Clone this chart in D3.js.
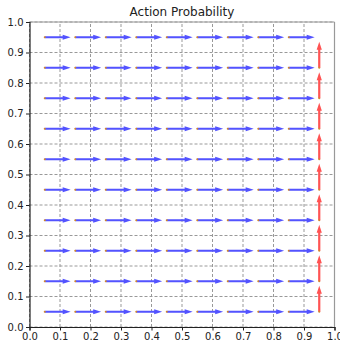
<!DOCTYPE html>
<html>
<head>
<meta charset="utf-8">
<script src="https://cdn.jsdelivr.net/npm/d3@7"></script>
<style>
  body { margin: 0; background: #fff; }
  text { font-family: "DejaVu Sans", sans-serif; }
</style>
</head>
<body>
<div id="chart"></div>
<script>
// cell centres along each axis
const xCenters = [0.05, 0.15, 0.25, 0.35, 0.45, 0.55, 0.65, 0.75, 0.85, 0.95];
const yCenters = [0.05, 0.15, 0.25, 0.35, 0.45, 0.55, 0.65, 0.75, 0.85, 0.95];
// best action per row (bottom row first): R = right, U = up, "" = none
const policyRows = [
  ["R","R","R","R","R","R","R","R","R","U"],
  ["R","R","R","R","R","R","R","R","R","U"],
  ["R","R","R","R","R","R","R","R","R","U"],
  ["R","R","R","R","R","R","R","R","R","U"],
  ["R","R","R","R","R","R","R","R","R","U"],
  ["R","R","R","R","R","R","R","R","R","U"],
  ["R","R","R","R","R","R","R","R","R","U"],
  ["R","R","R","R","R","R","R","R","R","U"],
  ["R","R","R","R","R","R","R","R","R","U"],
  ["R","R","R","R","R","R","R","R","R",""]
];
const arrowLength = 0.085;
const ticks = [0, 0.1, 0.2, 0.3, 0.4, 0.5, 0.6, 0.7, 0.8, 0.9, 1.0];
const titleText = "Action Probability";

const width = 340, height = 343;
const margin = { left: 29.5, top: 22, right: 5.5, bottom: 16 };

const svg = d3.select("#chart").append("svg")
  .attr("width", width)
  .attr("height", height);

const xScale = d3.scaleLinear().domain([0, 1]).range([margin.left, width - margin.right]);
const yScale = d3.scaleLinear().domain([0, 1]).range([height - margin.bottom, margin.top]);

// grid
const grid = svg.append("g").attr("class", "grid");
grid.selectAll(".gx").data(ticks).enter().append("line")
  .attr("x1", d => xScale(d)).attr("x2", d => xScale(d))
  .attr("y1", yScale(0)).attr("y2", yScale(1))
  .attr("stroke", "#999").attr("stroke-width", 1).attr("stroke-dasharray", "3,2");
grid.selectAll(".gy").data(ticks).enter().append("line")
  .attr("y1", d => yScale(d)).attr("y2", d => yScale(d))
  .attr("x1", xScale(0)).attr("x2", xScale(1))
  .attr("stroke", "#999").attr("stroke-width", 1).attr("stroke-dasharray", "3,2");

// arrows
const arrows = [];
policyRows.forEach((row, i) => {
  row.forEach((a, j) => {
    if (a) arrows.push({ x: xCenters[j], y: yCenters[i], a: a });
  });
});

const defs = svg.append("defs");
const soft = defs.append("filter").attr("id", "soft").attr("x", "-20%").attr("y", "-100%")
  .attr("width", "140%").attr("height", "300%");
soft.append("feGaussianBlur").attr("stdDeviation", 0.6);

function arrowPath(d) {
  const x0 = xScale(d.x), y0 = yScale(d.y);
  const dx = d.a === "R" ? xScale(d.x + arrowLength) - x0 : 0;
  const dy = d.a === "U" ? yScale(d.y + arrowLength) - y0 : 0;
  const len = Math.hypot(dx, dy);
  const ux = dx / len, uy = dy / len;     // direction
  const px = -uy, py = ux;                // perpendicular
  const shaft = 1.1, head = 2.6, headLen = 8;
  const bx = x0 + ux * (len - headLen), by = y0 + uy * (len - headLen);
  const pts = [
    [x0 + px * shaft, y0 + py * shaft],
    [bx + px * shaft, by + py * shaft],
    [bx + px * head, by + py * head],
    [x0 + dx, y0 + dy],
    [bx - px * head, by - py * head],
    [bx - px * shaft, by - py * shaft],
    [x0 - px * shaft, y0 - py * shaft]
  ];
  return "M" + pts.map(p => p.join(",")).join("L") + "Z";
}

svg.append("g").selectAll("path").data(arrows).enter().append("path")
  .attr("d", arrowPath)
  .attr("fill", d => d.a === "R" ? "#5252ff" : "#ff5252")
  .attr("filter", "url(#soft)");

// tail markers
svg.append("g").selectAll("circle").data(arrows).enter().append("circle")
  .attr("cx", d => xScale(d.x))
  .attr("cy", d => yScale(d.y))
  .attr("r", 1)
  .attr("fill", "#d2862a");

// spines
svg.append("line").attr("x1", xScale(0)).attr("x2", xScale(1)).attr("y1", yScale(1)).attr("y2", yScale(1))
  .attr("stroke", "#999").attr("stroke-width", 1.2);
svg.append("line").attr("x1", xScale(1)).attr("x2", xScale(1)).attr("y1", yScale(0)).attr("y2", yScale(1))
  .attr("stroke", "#999").attr("stroke-width", 1.2);

const xAxis = d3.axisBottom(xScale).tickValues(ticks).tickFormat(d3.format(".1f")).tickSizeOuter(0).tickSize(3.5).tickPadding(2.5);
const yAxis = d3.axisLeft(yScale).tickValues(ticks).tickFormat(d3.format(".1f")).tickSizeOuter(0).tickSize(3.5).tickPadding(2.5);

const gx = svg.append("g").attr("transform", "translate(0," + yScale(0) + ")").call(xAxis);
const gy = svg.append("g").attr("transform", "translate(" + xScale(0) + ",0)").call(yAxis);
[gx, gy].forEach(g => {
  g.select(".domain").attr("stroke", "#222").attr("stroke-width", 1.2);
  g.selectAll(".tick line").attr("stroke", "#222");
  g.selectAll(".tick text").attr("font-size", 10).attr("fill", "#222")
    .attr("font-family", "DejaVu Sans, sans-serif");
});

svg.append("text")
  .attr("x", (xScale(0) + xScale(1)) / 2)
  .attr("y", 16)
  .attr("text-anchor", "middle")
  .attr("font-size", 12)
  .attr("fill", "#222")
  .text(titleText);
</script>
</body>
</html>
